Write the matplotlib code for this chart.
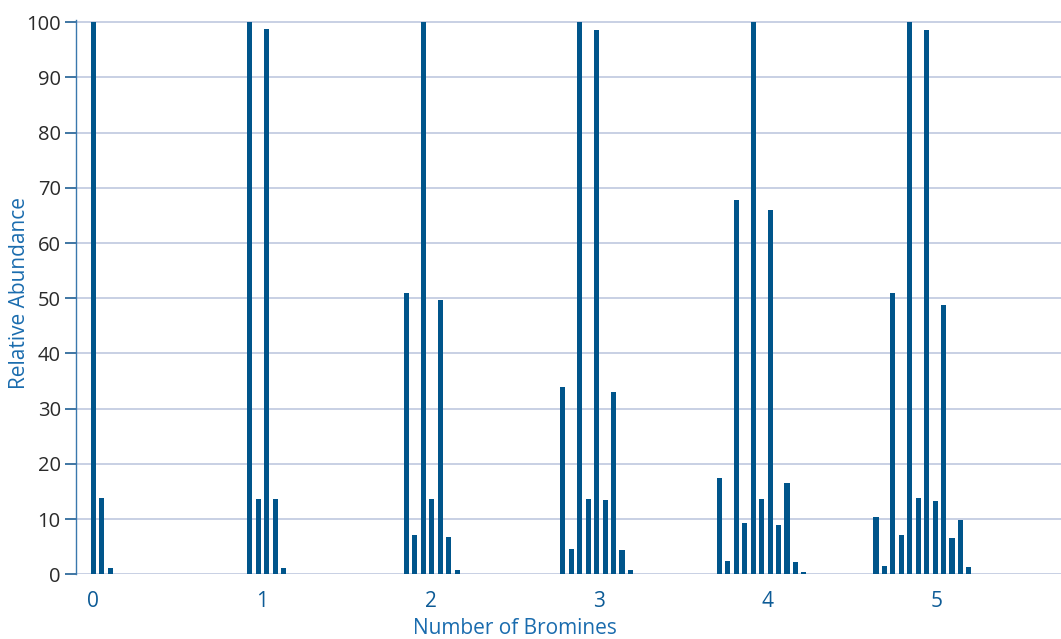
import matplotlib
matplotlib.use("Agg")
import matplotlib.pyplot as plt

# Number of bromines (x tick categories)
bromines = [0, 1, 2, 3, 4, 5]

# Relative abundance of isotope peaks (M, M+1, M+2, ...) for each bromine count
abund_0 = [100, 13.8, 1.2]
abund_1 = [100, 13.7, 98.8, 13.7, 1.2]
abund_2 = [50.9, 7.1, 100, 13.7, 49.6, 6.8, 0.7]
abund_3 = [34.0, 4.6, 100, 13.7, 98.5, 13.4, 33.1, 4.4, 0.7]
abund_4 = [17.4, 2.4, 67.8, 9.3, 100, 13.7, 65.9, 9.0, 16.5, 2.3, 0.4]
abund_5 = [10.4, 1.5, 50.9, 7.1, 100, 13.8, 98.5, 13.3, 48.8, 6.6, 9.8, 1.4]
groups = [abund_0, abund_1, abund_2, abund_3, abund_4, abund_5]

y_ticks = [0, 10, 20, 30, 40, 50, 60, 70, 80, 90, 100]

# layout constants
GROUP_STEP = 0.9285
PEAK_STEP = 0.0501
BAR_W = 0.030

BAR_C = "#00558b"
GRID_C = "#c4cde2"
TICK_C = "#0d5b96"
LABEL_C = "#1a6cae"

plt.rcParams['font.family'] = ['Open Sans', 'DejaVu Sans']

W, H = 1061, 639
fig = plt.figure(figsize=(W / 100, H / 100), dpi=100)
ax = fig.add_axes([76 / W, (H - 574.3) / H, 1 - 76 / W, (574.3 - 20) / H])

for n, vals in zip(bromines, groups):
    xs = [n * GROUP_STEP + k * PEAK_STEP for k in range(len(vals))]
    ax.bar(xs, vals, width=BAR_W, color=BAR_C, zorder=3, align='center')

ax.set_xlim(-0.1026, 5.74)
ax.set_ylim(0, 100.4)
ax.set_yticks(y_ticks)
ax.set_yticklabels([str(v) for v in y_ticks], color="#2a2a2a", fontsize=14.5)
ax.set_xticks(bromines)
ax.set_xticklabels([str(b) for b in bromines], color=TICK_C, fontsize=15)
ax.tick_params(axis='x', length=0, pad=12)
ax.tick_params(axis='y', length=8, width=1.2, color="#1f5f94", pad=3)

ax.yaxis.grid(True, color=GRID_C, linewidth=1.3, zorder=0)
ax.set_axisbelow(True)
for s in ['top', 'right', 'bottom']:
    ax.spines[s].set_visible(False)
ax.spines['left'].set_color("#3a78ad")
ax.spines['left'].set_linewidth(1.0)

fig.text(515 / W, (H - 628) / H, "Number of Bromines", color=LABEL_C,
         fontsize=15, ha='center', va='center')
fig.text(20 / W, (H - 293) / H, "Relative Abundance", color=LABEL_C,
         fontsize=15, ha='center', va='center', rotation=90)

fig.savefig("out.png", dpi=100)
